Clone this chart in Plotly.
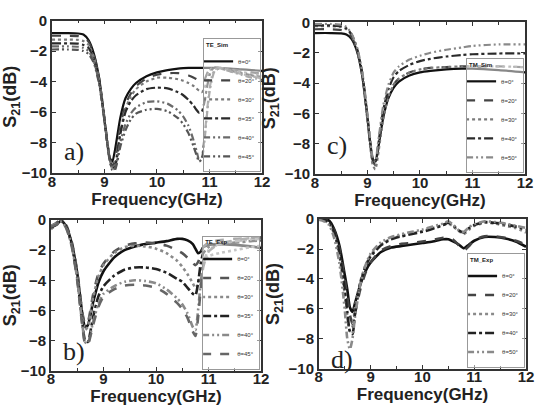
import plotly.graph_objects as go

# ---------------- data ----------------
# a) TE_Sim
fa = [8.0, 8.3, 8.5, 8.6, 8.7, 8.8, 8.9, 9.0, 9.05, 9.1, 9.15, 9.2, 9.3, 9.4, 9.5, 9.6, 9.8, 10.0,
      10.2, 10.4, 10.5, 10.6, 10.7, 10.75, 10.8, 10.85, 10.9, 10.95, 11.0, 11.05, 11.1, 11.2, 11.4, 11.6, 11.8, 12.0]
te_sim_0 = [-0.83, -0.83, -0.85, -0.92, -1.3, -2.2, -3.8, -6.5, -7.9, -9.0, -9.25, -8.5, -6.4, -5.1, -4.5,
            -4.1, -3.65, -3.4, -3.25, -3.15, -3.12, -3.1, -3.1, -3.1, -3.1, -3.1, -3.1, -3.1, -3.1, -3.1,
            -3.1, -3.12, -3.15, -3.2, -3.25, -3.3]
te_sim_20 = [-1.0, -1.0, -1.02, -1.1, -1.4, -2.3, -3.8, -6.4, -7.8, -9.0, -9.55, -9.2, -7.0, -5.5, -4.8,
             -4.3, -3.8, -3.55, -3.45, -3.45, -3.5, -3.6, -3.75, -3.85, -3.95, -4.0, -3.9, -3.5, -3.2, -3.05,
             -3.05, -3.1, -3.2, -3.3, -3.4, -3.5]
te_sim_30 = [-1.25, -1.25, -1.27, -1.35, -1.6, -2.4, -3.9, -6.4, -7.8, -9.0, -9.6, -9.4, -7.3, -5.8, -5.0,
             -4.5, -4.0, -3.75, -3.75, -3.85, -3.95, -4.1, -4.3, -4.45, -4.6, -4.7, -4.5, -3.8, -3.3, -3.1,
             -3.05, -3.1, -3.25, -3.35, -3.5, -3.6]
te_sim_35 = [-1.5, -1.5, -1.52, -1.6, -1.8, -2.6, -4.0, -6.5, -7.9, -9.1, -9.7, -9.6, -7.5, -6.0, -5.3,
             -4.9, -4.5, -4.4, -4.45, -4.7, -4.9, -5.2, -5.6, -5.85, -6.05, -6.0, -5.4, -4.4, -3.6, -3.2,
             -3.1, -3.15, -3.3, -3.45, -3.6, -3.7]
te_sim_40 = [-1.7, -1.7, -1.72, -1.8, -2.0, -2.7, -4.1, -6.5, -7.9, -9.1, -9.75, -9.7, -8.0, -6.8, -6.1,
             -5.7, -5.35, -5.3, -5.45, -5.9, -6.3, -6.9, -7.9, -8.5, -9.1, -9.0, -7.8, -6.0, -4.5, -3.6,
             -3.2, -3.1, -3.3, -3.5, -3.65, -3.8]
te_sim_45 = [-1.9, -1.9, -1.92, -2.0, -2.2, -2.8, -4.2, -6.6, -8.0, -9.2, -9.8, -9.8, -8.3, -7.2, -6.5,
             -6.1, -5.85, -5.8, -5.95, -6.4, -6.8, -7.4, -8.3, -8.8, -9.25, -9.1, -8.0, -6.2, -4.7, -3.8,
             -3.3, -3.15, -3.35, -3.55, -3.75, -3.9]

# c) TM_Sim
fc = [8.0, 8.3, 8.5, 8.6, 8.7, 8.8, 8.9, 9.0, 9.05, 9.1, 9.15, 9.2, 9.3, 9.4, 9.5, 9.6, 9.8, 10.0,
      10.2, 10.5, 10.8, 11.0, 11.5, 12.0]
tm_sim_0 = [-0.7, -0.7, -0.72, -0.8, -1.1, -1.9, -3.5, -6.3, -7.9, -9.0, -9.2, -8.4, -6.3, -5.0, -4.3,
            -3.9, -3.5, -3.3, -3.2, -3.1, -3.05, -3.05, -3.15, -3.3]
tm_sim_20 = [-0.45, -0.45, -0.5, -0.6, -0.95, -1.8, -3.4, -6.3, -7.9, -9.1, -9.4, -8.5, -6.2, -4.8, -4.1,
             -3.7, -3.3, -3.1, -3.0, -2.95, -2.9, -2.9, -2.9, -2.95]
tm_sim_30 = [-0.25, -0.25, -0.3, -0.45, -0.85, -1.8, -3.5, -6.5, -8.1, -9.4, -9.7, -8.8, -6.4, -4.9, -4.1,
             -3.7, -3.3, -3.1, -3.0, -2.95, -2.9, -2.9, -2.9, -2.95]
tm_sim_40 = [-0.2, -0.2, -0.25, -0.4, -0.8, -1.7, -3.3, -6.2, -7.8, -9.0, -9.3, -8.2, -5.8, -4.4, -3.6,
             -3.2, -2.8, -2.55, -2.4, -2.25, -2.15, -2.1, -2.05, -2.05]
tm_sim_50 = [-0.1, -0.1, -0.15, -0.3, -0.75, -1.6, -3.2, -6.0, -7.6, -8.9, -9.2, -8.0, -5.5, -4.1, -3.3,
             -2.9, -2.45, -2.2, -2.0, -1.8, -1.65, -1.55, -1.45, -1.45]

# b) TE_Exp
fb = [8.0, 8.1, 8.2, 8.3, 8.4, 8.5, 8.6, 8.65, 8.7, 8.8, 8.9, 9.0, 9.2, 9.4, 9.6, 9.8, 10.0, 10.2,
      10.4, 10.5, 10.6, 10.7, 10.75, 10.8, 10.85, 10.9, 11.0, 11.2, 11.5, 11.8, 12.0]
te_exp_0 = [-0.5, -0.3, -0.05, -0.5, -1.6, -3.5, -6.3, -7.1, -7.0, -5.5, -4.2, -3.4, -2.5, -2.0, -1.75,
            -1.6, -1.5, -1.4, -1.25, -1.25, -1.35, -1.6, -1.9, -2.2, -2.1, -1.8, -1.65, -1.6, -1.65, -1.75, -1.85]
te_exp_20 = [-0.4, -0.2, 0.0, -0.4, -1.5, -3.4, -6.2, -6.9, -6.8, -5.0, -3.6, -2.9, -2.1, -1.7, -1.55,
             -1.5, -1.55, -1.7, -2.0, -2.2, -2.5, -2.85, -3.0, -2.8, -2.3, -1.8, -1.5, -1.35, -1.25, -1.2, -1.2]
te_exp_30 = [-0.6, -0.35, -0.1, -0.5, -1.7, -3.6, -6.5, -7.3, -7.1, -5.2, -3.8, -3.0, -2.2, -1.8, -1.7,
             -1.75, -1.9, -2.2, -2.7, -3.1, -3.6, -4.2, -4.5, -4.3, -3.5, -2.8, -2.4, -2.2, -2.0, -1.8, -1.7]
te_exp_35 = [-0.5, -0.3, -0.05, -0.5, -1.7, -3.8, -6.9, -8.0, -8.1, -6.5, -5.1, -4.4, -3.7, -3.3, -3.15,
             -3.15, -3.25, -3.5, -3.9, -4.1, -4.5, -4.9, -5.0, -4.2, -2.9, -2.2, -1.8, -1.6, -1.5, -1.4, -1.35]
te_exp_40 = [-0.4, -0.25, -0.1, -0.6, -1.8, -3.9, -7.0, -8.1, -8.2, -6.8, -5.6, -4.9, -4.4, -4.1, -4.0,
             -4.05, -4.2, -4.6, -5.2, -5.6, -6.2, -7.1, -7.3, -6.0, -4.2, -2.9, -2.0, -1.6, -1.4, -1.3, -1.25]
te_exp_45 = [-0.45, -0.3, -0.1, -0.6, -1.8, -4.0, -7.1, -8.2, -8.3, -7.0, -5.8, -5.1, -4.6, -4.35, -4.3,
             -4.35, -4.5, -4.9, -5.5, -5.9, -6.5, -7.4, -7.7, -6.5, -4.6, -3.1, -2.1, -1.6, -1.35, -1.2, -1.15]

# d) TM_Exp
fd = [8.0, 8.1, 8.2, 8.3, 8.4, 8.5, 8.55, 8.6, 8.65, 8.7, 8.8, 8.9, 9.0, 9.2, 9.4, 9.6, 9.8, 10.0,
      10.2, 10.4, 10.5, 10.6, 10.7, 10.8, 10.9, 11.0, 11.2, 11.4, 11.6, 11.8, 12.0]
tm_exp_0 = [-0.05, -0.05, -0.1, -0.7, -1.8, -3.7, -4.7, -5.9, -6.2, -5.6, -4.4, -3.5, -2.9, -2.2, -1.9,
            -1.8, -1.7, -1.6, -1.5, -1.35, -1.35, -1.5, -1.7, -1.95, -1.7, -1.45, -1.2, -1.2, -1.3, -1.5, -1.85]
tm_exp_20 = [0.0, -0.05, -0.15, -0.8, -2.0, -4.0, -5.2, -6.4, -7.0, -6.3, -4.7, -3.6, -2.9, -2.1, -1.8,
             -1.65, -1.6, -1.5, -1.4, -1.25, -1.25, -1.4, -1.75, -2.1, -1.8, -1.4, -1.15, -1.15, -1.25, -1.45, -1.7]
tm_exp_30 = [0.0, -0.1, -0.3, -1.0, -2.5, -5.0, -6.5, -7.5, -7.2, -5.9, -4.2, -3.1, -2.4, -1.7, -1.3,
             -1.1, -0.95, -0.8, -0.6, -0.4, -0.3, -0.5, -0.8, -1.0, -0.7, -0.45, -0.25, -0.3, -0.45, -0.6, -0.9]
tm_exp_40 = [0.0, -0.05, -0.2, -0.9, -2.3, -4.7, -6.2, -7.5, -7.7, -6.3, -4.3, -3.2, -2.5, -1.75, -1.35,
             -1.15, -1.0, -0.85, -0.65, -0.4, -0.25, -0.45, -0.75, -0.9, -0.6, -0.4, -0.2, -0.25, -0.35, -0.5, -0.7]
tm_exp_50 = [-0.05, -0.15, -0.4, -1.3, -3.0, -6.0, -8.0, -8.7, -8.0, -6.5, -4.4, -3.1, -2.3, -1.55, -1.2,
             -1.0, -0.85, -0.7, -0.5, -0.3, -0.15, -0.4, -0.75, -0.85, -0.55, -0.35, -0.15, -0.2, -0.3, -0.45, -0.6]

te_labels = ["θ=0°", "θ=20°", "θ=30°", "θ=35°", "θ=40°", "θ=45°"]
tm_labels = ["θ=0°", "θ=20°", "θ=30°", "θ=40°", "θ=50°"]

# ---------------- styles ----------------
DDOT = "7px,3px,2px,3px,2px,3px"
te_sim_styles = [("solid", "#111111"), ("dash", "#444444"), ("dot", "#7a7a7a"),
                 ("dashdot", "#2a2a2a"), (DDOT, "#6a6a6a"), (DDOT, "#555555")]
tm_sim_styles = [("solid", "#111111"), ("dash", "#444444"), ("dot", "#7a7a7a"),
                 ("dashdot", "#2a2a2a"), (DDOT, "#8a8a8a")]
te_exp_styles = [("solid", "#111111"), ("dash", "#555555"), ("dot", "#8a8a8a"),
                 ("dashdot", "#222222"), (DDOT, "#8a8a8a"), ("dash", "#666666")]
tm_exp_styles = [("solid", "#111111"), ("dash", "#444444"), ("dot", "#8a8a8a"),
                 ("dashdot", "#222222"), (DDOT, "#8a8a8a")]

fig = go.Figure()

def add_panel(freq, series, labels, styles, xa, ya, legend, width):
    for s, lab, (dash, col) in zip(series, labels, styles):
        fig.add_trace(go.Scatter(
            x=freq, y=s, mode="lines", name=lab,
            line=dict(color=col, width=width, dash=dash, shape="spline", smoothing=0.6),
            xaxis=xa, yaxis=ya, legend=legend))

add_panel(fa, [te_sim_0, te_sim_20, te_sim_30, te_sim_35, te_sim_40, te_sim_45],
          te_labels, te_sim_styles, "x", "y", "legend", 2.2)
add_panel(fc, [tm_sim_0, tm_sim_20, tm_sim_30, tm_sim_40, tm_sim_50],
          tm_labels, tm_sim_styles, "x2", "y2", "legend2", 2.2)
add_panel(fb, [te_exp_0, te_exp_20, te_exp_30, te_exp_35, te_exp_40, te_exp_45],
          te_labels, te_exp_styles, "x3", "y3", "legend3", 2.6)
add_panel(fd, [tm_exp_0, tm_exp_20, tm_exp_30, tm_exp_40, tm_exp_50],
          tm_labels, tm_exp_styles, "x4", "y4", "legend4", 2.6)

# ---------------- layout ----------------
W, H = 536, 417
# plot-area pixel boxes (left, right, top, bottom)
boxes = {
    "a": (49, 264, 12, 171),
    "c": (318, 533, 14, 172),
    "b": (48, 263, 220, 377),
    "d": (322, 534, 219, 375),
}

def xdom(b):
    return [b[0] / W, b[1] / W]

def ydom(b):
    return [(H - b[3]) / H, (H - b[2]) / H]

SANS = "Liberation Sans, Arial, sans-serif"
tickfont = dict(family=SANS, size=15, color="#222", weight="bold")
xtitle = dict(text="Frequency(GHz)", font=dict(family=SANS, size=17, color="#222", weight="bold"), standoff=0)
ytitle = dict(text="S<sub>21</sub>(dB)", font=dict(family=SANS, size=18, color="#222", weight="bold"), standoff=4)

def xaxis(b):
    return dict(domain=xdom(b), range=[8, 12], dtick=1, tick0=8, showgrid=False, zeroline=False,
                showline=True, linecolor="#333", linewidth=1.5, mirror="ticks",
                ticks="inside", ticklen=4, tickwidth=1.2, tickcolor="#333",
                minor=dict(dtick=0.5, ticks="inside", ticklen=3, tickcolor="#333"),
                tickfont=tickfont, ticklabelstandoff=-6, title=xtitle)

def yaxis(b, anchor):
    return dict(domain=ydom(b), range=[-10, 0], dtick=2, tick0=0, showgrid=False, zeroline=False,
                showline=True, linecolor="#333", linewidth=1.5, mirror="ticks",
                ticks="inside", ticklen=4, tickwidth=1.2, tickcolor="#333",
                tickfont=tickfont, title=ytitle, anchor=anchor)

def legend(b, title):
    return dict(title=dict(text=title, font=dict(family=SANS, size=6, color="#222", weight="bold")),
                font=dict(family=SANS, size=6, color="#333"),
                x=(b[1] - 1) / W, y=(H - b[3] + 1) / H, xanchor="right", yanchor="bottom",
                bgcolor="rgba(255,255,255,0.5)", bordercolor="#999", borderwidth=1, itemwidth=30,
                tracegroupgap=0, indentation=-6)

SERIF = "Liberation Serif, Times New Roman, serif"
panel_labels = [("a)", "x", "y", -8.6), ("c)", "x2", "y2", -8.1), ("b)", "x3", "y3", -8.7), ("d)", "x4", "y4", -9.4)]
annotations = [dict(text=t, xref=xa, yref=ya, x=8.2, y=yv, xanchor="left", yanchor="middle",
                    showarrow=False, font=dict(family=SERIF, size=26, color="#222"))
               for t, xa, ya, yv in panel_labels]

fig.update_layout(
    width=W, height=H, margin=dict(l=0, r=0, t=0, b=0),
    paper_bgcolor="white", plot_bgcolor="white", showlegend=True,
    xaxis=dict(xaxis(boxes["a"]), anchor="y"),
    yaxis=yaxis(boxes["a"], "x"),
    xaxis2=dict(xaxis(boxes["c"]), anchor="y2"),
    yaxis2=yaxis(boxes["c"], "x2"),
    xaxis3=dict(xaxis(boxes["b"]), anchor="y3"),
    yaxis3=yaxis(boxes["b"], "x3"),
    xaxis4=dict(xaxis(boxes["d"]), anchor="y4"),
    yaxis4=yaxis(boxes["d"], "x4"),
    legend=legend(boxes["a"], "TE_Sim"),
    legend2=legend(boxes["c"], "TM_Sim"),
    legend3=legend(boxes["b"], "TE_Exp"),
    legend4=legend(boxes["d"], "TM_Exp"),
    annotations=annotations,
)

fig.write_html("out.html")
